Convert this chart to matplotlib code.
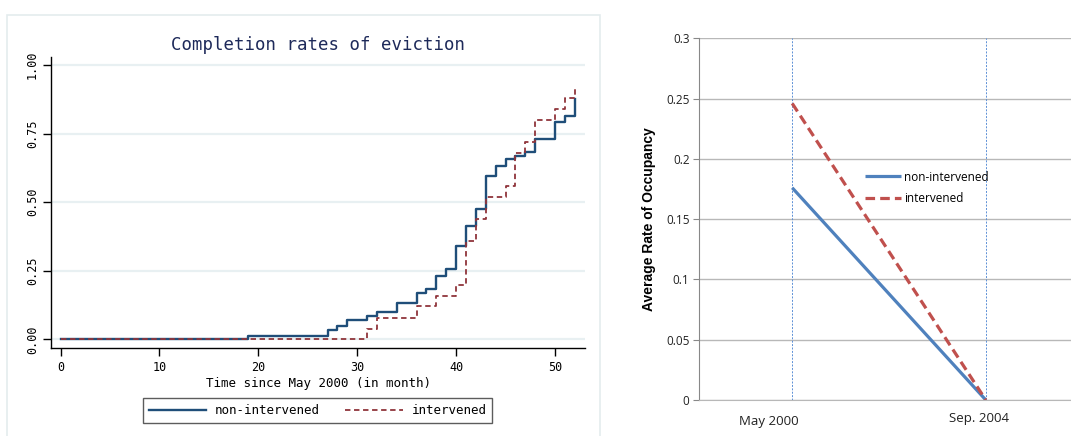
import matplotlib.pyplot as plt
from matplotlib.patches import Rectangle
from matplotlib.transforms import ScaledTranslation

# left panel: step curves (time in months, cumulative rate)
non_months = [0, 19, 27, 28, 29, 31, 32, 34, 36, 37, 38, 39, 40, 41, 42, 43, 44, 45, 46, 47, 48, 50, 51, 52]
non_rates = [0, 0.012, 0.035, 0.048, 0.072, 0.084, 0.098, 0.133, 0.170, 0.182, 0.230, 0.255, 0.341,
             0.414, 0.475, 0.597, 0.632, 0.658, 0.669, 0.683, 0.730, 0.792, 0.816, 0.876]
int_months = [0, 31, 32, 36, 38, 40, 41, 42, 43, 45, 46, 47, 48, 50, 51, 52]
int_rates = [0, 0.039, 0.078, 0.120, 0.159, 0.199, 0.359, 0.438, 0.520, 0.558, 0.680, 0.720,
             0.799, 0.840, 0.879, 0.918]
left_xticks = [0, 10, 20, 30, 40, 50]
left_yticks = [0, 0.25, 0.5, 0.75, 1.0]
left_ylabels = ['0.00', '0.25', '0.50', '0.75', '1.00']

# right panel: two dates
dates = ['May 2000', 'Sep. 2004']
non_occupancy = [0.176, 0.0]
int_occupancy = [0.246, 0.0]
right_yticks = [0, 0.05, 0.1, 0.15, 0.2, 0.25, 0.3]
right_ylabels = ['0', '0.05', '0.1', '0.15', '0.2', '0.25', '0.3']

W, H = 1071, 436
fig = plt.figure(figsize=(W / 100, H / 100), dpi=100)
mono = 'DejaVu Sans Mono'

# faint frame around the left graph
fig.patches.append(Rectangle((7 / W, -0.02), (600 - 7) / W, 1 - 15 / H + 0.02,
                             transform=fig.transFigure, fill=False,
                             edgecolor='#e4ecee', linewidth=1.2))

ax1 = fig.add_axes([51.4 / W, 1 - 348.3 / H, (584.7 - 51.4) / W, (348.3 - 56.7) / H])
for y in left_yticks:
    ax1.axhline(y, color='#e8f0f2', linewidth=1.6, zorder=0)
ax1.step(non_months, non_rates, where='post', color='#1f4e79', linewidth=1.7,
         label='non-intervened')
ax1.step(int_months, int_rates, where='post', color='#90353b', linewidth=1.3,
         linestyle=(0, (3, 2)), label='intervened')
ax1.set_xlim(-0.93, 53.0)
ax1.set_ylim(-0.033, 1.031)
ax1.set_xticks(left_xticks)
ax1.set_xticklabels([str(t) for t in left_xticks], family=mono, fontsize=8.5)
ax1.set_yticks(left_yticks)
ax1.set_yticklabels(left_ylabels, rotation=90, va='center', family=mono, fontsize=8.5)
ax1.tick_params(length=6, width=1, color='black', pad=3)
for side in ['top', 'right']:
    ax1.spines[side].set_visible(False)
for side in ['left', 'bottom']:
    ax1.spines[side].set_linewidth(1)
ax1.set_xlabel('Time since May 2000 (in month)', family=mono, fontsize=9, labelpad=2)
ax1.set_title('Completion rates of eviction', family=mono, fontsize=12.5,
              color='#1e2a5a', pad=5)

fig.legend(*ax1.get_legend_handles_labels(), loc='center',
           bbox_to_anchor=(317.7 / W, 1 - 410.5 / H), ncol=2,
           prop={'family': mono, 'size': 9}, frameon=True, fancybox=False,
           edgecolor='#333333', handlelength=4.6, handletextpad=0.7,
           columnspacing=2.0, borderpad=0.45).get_frame().set_linewidth(1)

# right panel
ax2 = fig.add_axes([699.3 / W, 1 - 400 / H, (W - 699.3) / W, (400 - 38.3) / H])
xs = list(range(len(dates)))
for y in right_yticks:
    ax2.axhline(y, color='#b8b8b8', linewidth=1, zorder=0)
for x in xs:
    ax2.axvline(x, color='#5b8fd6', linewidth=0.7, linestyle=(0, (2, 1.5)), zorder=1)
ax2.plot(xs, non_occupancy, color='#4f81bd', linewidth=2.3, label='non-intervened',
         solid_capstyle='butt', zorder=3)
ax2.plot(xs, int_occupancy, color='#c0504d', linewidth=2.3, linestyle=(0, (3, 1.6)),
         label='intervened', zorder=3)
ax2.set_xlim(-0.48, 1.44)
ax2.set_ylim(0, 0.3)
ax2.set_yticks(right_yticks)
ax2.set_yticklabels(right_ylabels, family='Open Sans', fontsize=8.5, color='#222222')
ax2.set_xticks(xs)
ax2.set_xticklabels(dates, family='Open Sans', fontsize=9.5, color='#222222')
ax2.tick_params(axis='y', length=4, color='#888888', pad=3)
ax2.tick_params(axis='x', length=0, pad=9)
label_shift = [(-23, -2), (-6.5, 1)]
for lab, (dx, dy) in zip(ax2.get_xticklabels(), label_shift):
    lab.set_transform(lab.get_transform() + ScaledTranslation(dx / 100, dy / 100, fig.dpi_scale_trans))
for side in ['top', 'right']:
    ax2.spines[side].set_visible(False)
ax2.spines['left'].set_color('#888888')
ax2.spines['bottom'].set_color('#b8b8b8')
ax2.set_ylabel('Average Rate of Occupancy', family='Liberation Sans', fontweight='bold',
               fontsize=10, labelpad=7)
ax2.legend(loc='center left', bbox_to_anchor=(0.4465, 0.586), frameon=False,
           prop={'family': 'Open Sans', 'size': 8.5}, handlelength=3.0,
           handletextpad=0.25, borderpad=0, borderaxespad=0, labelspacing=0.75)

fig.savefig('out.png', dpi=100)
